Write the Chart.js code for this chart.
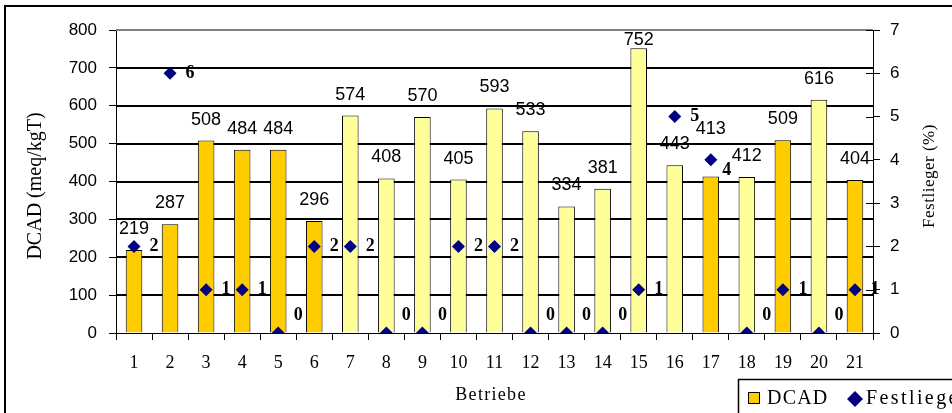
<!DOCTYPE html>
<html>
<head>
<meta charset="utf-8">
<script src="https://cdn.jsdelivr.net/npm/chart.js@4.4.1/dist/chart.umd.min.js"></script>
<style>
  html, body { margin: 0; padding: 0; background: #fff; }
  canvas { display: block; }
</style>
</head>
<body>
<canvas id="chart" width="952" height="413"></canvas>
<script>
// Betriebe 1..21
const betriebe = ["1","2","3","4","5","6","7","8","9","10","11","12","13","14","15","16","17","18","19","20","21"];
// DCAD je Betrieb (meq/kg TS)
const dcad = [219, 287, 508, 484, 484, 296, 574, 408, 570, 405, 593, 533, 334, 381, 752, 443, 413, 412, 509, 616, 404];
// Festlieger je Betrieb (%)
const festlieger = [2, 6, 1, 1, 0, 2, 2, 0, 0, 2, 2, 0, 0, 0, 1, 5, 4, 0, 1, 0, 1];
// Gruppe: "a" = dunkle Balken, "b" = helle Balken
const gruppe = ["a","a","a","a","a","a","b","b","b","b","b","b","b","b","b","b","a","b","a","b","a"];

const farbeA = "#ffcc00";
const farbeB = "#ffff99";
const rautenFarbe = "#000080";

const serif = "'Liberation Serif', 'Times New Roman', serif";
const sans = "'Liberation Sans', Arial, sans-serif";

document.addEventListener("DOMContentLoaded", function() {
  const canvas = document.getElementById("chart");
  const ctx = canvas.getContext("2d");

  function spaced(c, px) {
    if ("letterSpacing" in c) c.letterSpacing = px + "px";
  }

  const extras = {
    id: "extras",
    beforeDatasetsDraw(chart) {
      // horizontal grid lines behind the bars
      const c = chart.ctx;
      const area = chart.chartArea;
      const y = chart.scales.y;
      c.save();
      c.lineWidth = 1.8;
      y.ticks.forEach(function(t) {
        if (t.value === 0) return;
        const py = Math.round(y.getPixelForValue(t.value));
        c.strokeStyle = t.value === 800 ? "#808080" : "#000000";
        c.beginPath();
        c.moveTo(area.left, py);
        c.lineTo(area.right, py);
        c.stroke();
      });
      c.restore();
    },
    afterDatasetsDraw(chart) {
      const c = chart.ctx;
      const area = chart.chartArea;
      const barMeta = chart.getDatasetMeta(1);
      const pointMeta = chart.getDatasetMeta(0);
      c.save();

      // inner half of the right axis ticks
      const y1 = chart.scales.y1;
      c.strokeStyle = "#000";
      c.lineWidth = 1;
      y1.ticks.forEach(function(t) {
        const py = Math.round(y1.getPixelForValue(t.value)) + 0.5;
        c.beginPath();
        c.moveTo(area.right - 7, py);
        c.lineTo(area.right, py);
        c.stroke();
      });

      // DCAD values above the bars
      c.fillStyle = "#000";
      c.font = "18px " + sans;
      c.textAlign = "center";
      c.textBaseline = "middle";
      barMeta.data.forEach(function(bar, i) {
        let y = bar.y - 21;
        if (i === 16) y -= 27;
        y = Math.max(y, area.top + 10);
        c.fillText(String(dcad[i]), bar.x, y);
      });

      // Festlieger values next to the diamonds
      c.font = "bold 18px " + serif;
      pointMeta.data.forEach(function(pt, i) {
        let dx = 20, dy = 0;
        if (festlieger[i] === 0) dy = -18;
        if (i === 16) { dx = 16; dy = 10; }
        c.fillText(String(festlieger[i]), pt.x + dx, pt.y + dy);
      });
      c.restore();
    },
    afterDraw(chart) {
      const c = chart.ctx;
      c.save();
      c.fillStyle = "#000";
      c.textAlign = "center";
      c.textBaseline = "middle";

      // left axis title
      c.save();
      c.translate(36, 186);
      c.rotate(-Math.PI / 2);
      c.font = "20px " + serif;
      c.fillText("DCAD (meq/kgT)", 0, 0);
      c.restore();

      // right axis title
      c.save();
      c.translate(930, 176);
      c.rotate(-Math.PI / 2);
      c.font = "17px " + serif;
      spaced(c, 0.5);
      c.fillText("Festlieger (%)", 0, 0);
      c.restore();

      // x axis title
      c.font = "18px " + serif;
      spaced(c, 1.3);
      c.fillText("Betriebe", 491, 395);
      spaced(c, 0);

      // legend
      c.strokeStyle = "#000";
      c.lineWidth = 1.5;
      c.strokeRect(738.5, 379.5, 300, 100);
      c.fillStyle = farbeA;
      c.fillRect(748.5, 392.5, 11, 11);
      c.lineWidth = 1;
      c.strokeRect(748.5, 392.5, 11, 11);
      c.fillStyle = "#000";
      c.textAlign = "left";
      c.font = "20px " + serif;
      spaced(c, 1.2);
      c.fillText("DCAD", 767, 399);
      c.fillStyle = rautenFarbe;
      c.beginPath();
      c.moveTo(855, 391);
      c.lineTo(863, 399);
      c.lineTo(855, 407);
      c.lineTo(847, 399);
      c.closePath();
      c.fill();
      c.fillStyle = "#000";
      spaced(c, 2.4);
      c.fillText("Festlieger", 866, 399);
      spaced(c, 0);

      // outer frame
      c.lineWidth = 2;
      c.strokeRect(5, 6, 1000, 1000);
      c.restore();
    }
  };

  new Chart(ctx, {
    data: {
      labels: betriebe,
      datasets: [
        {
          type: "line",
          label: "Festlieger",
          data: festlieger,
          yAxisID: "y1",
          showLine: false,
          pointStyle: "rectRot",
          pointRadius: 6.5,
          pointBackgroundColor: rautenFarbe,
          pointBorderColor: rautenFarbe,
          pointBorderWidth: 0,
          order: 1
        },
        {
          type: "bar",
          label: "DCAD",
          data: dcad,
          yAxisID: "y",
          backgroundColor: gruppe.map(g => g === "a" ? farbeA : farbeB),
          borderColor: "#000",
          borderWidth: 1,
          barPercentage: 0.46,
          categoryPercentage: 1,
          order: 2
        }
      ]
    },
    options: {
      responsive: false,
      animation: false,
      events: [],
      layout: { padding: { top: 30, left: 0, right: 0, bottom: 0 } },
      plugins: {
        legend: { display: false },
        tooltip: { enabled: false }
      },
      scales: {
        x: {
          afterFit(scale) { scale.height = 80; },
          grid: { display: true, drawOnChartArea: false, offset: true, tickLength: 7, color: "#000", tickColor: "#000" },
          border: { color: "#000", width: 1 },
          ticks: { color: "#000", font: { family: serif, size: 18 }, padding: 12, maxRotation: 0, autoSkip: false }
        },
        y: {
          position: "left", min: 0, max: 800,
          afterFit(scale) { scale.width = 116; },
          grid: { drawOnChartArea: false, color: "#000", tickColor: "#000", tickLength: 7 },
          border: { color: "#000", width: 1 },
          ticks: { stepSize: 100, color: "#000", font: { family: sans, size: 17 }, padding: 12 }
        },
        y1: {
          position: "right", min: 0, max: 7,
          afterFit(scale) { scale.width = 79; },
          grid: { drawOnChartArea: false, color: "#000", tickColor: "#000", tickLength: 7 },
          border: { color: "#000", width: 1 },
          ticks: { stepSize: 1, color: "#000", font: { family: sans, size: 17 }, padding: 10 }
        }
      }
    },
    plugins: [extras]
  });
});
</script>
</body>
</html>
